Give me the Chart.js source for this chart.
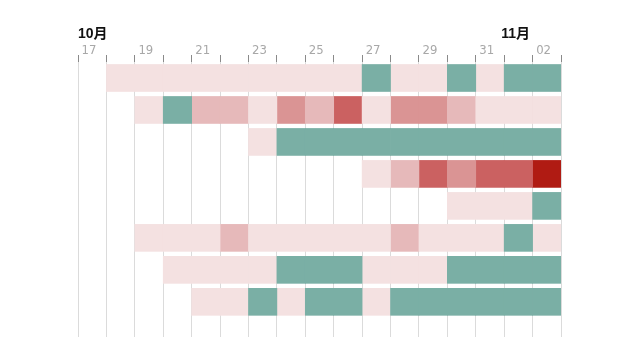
<!DOCTYPE html>
<html>
<head>
<meta charset="utf-8">
<script src="https://cdn.jsdelivr.net/npm/chart.js@4"></script>
<style>
  html, body { margin: 0; padding: 0; background: #fff; }
  #contenedor { width: 640px; height: 364px; }
</style>
</head>
<body>
<div id="contenedor"><canvas id="grafico"></canvas></div>
<script>
// Días (17 oct - 2 nov)
const dias = ['17','18','19','20','21','22','23','24','25','26','27','28','29','30','31','01','02'];
const meses = [
    { etiqueta: '10月', indice: 0 },
    { etiqueta: '11月', indice: 15 }
];

// 0 = verde, 1..5 = intensidad de rojo, null = sin dato
const fila1 = [null,1,1,1,1,1,1,1,1,1,0,1,1,0,1,0,0];
const fila2 = [null,null,1,0,2,2,1,3,2,4,1,3,3,2,1,1,1];
const fila3 = [null,null,null,null,null,null,1,0,0,0,0,0,0,0,0,0,0];
const fila4 = [null,null,null,null,null,null,null,null,null,null,1,2,4,3,4,4,5];
const fila5 = [null,null,null,null,null,null,null,null,null,null,null,null,null,1,1,1,0];
const fila6 = [null,null,1,1,1,2,1,1,1,1,1,2,1,1,1,0,1];
const fila7 = [null,null,null,1,1,1,1,0,0,0,1,1,1,0,0,0,0];
const fila8 = [null,null,null,null,1,1,0,1,0,0,1,0,0,0,0,0,0];

const filas = [fila1, fila2, fila3, fila4, fila5, fila6, fila7, fila8];
const niveles = [0, 1, 2, 3, 4, 5];
const colores = ['#7aafa5', '#f4e1e1', '#e6b9ba', '#da9494', '#cb6161', '#b01b13'];

// Construir un dataset por nivel de color
const datasets = niveles.map(function(nivel) {
    const celdas = [];
    filas.forEach(function(fila, f) {
        fila.forEach(function(v, d) {
            if (v === nivel) celdas.push({ x: [d, d + 1], y: f });
        });
    });
    return {
        data: celdas,
        backgroundColor: colores[nivel],
        borderWidth: 0,
        barThickness: 27,
        grouped: false
    };
});

// Etiquetas de mes encima de los días
const etiquetasMes = {
    id: 'etiquetasMes',
    afterDraw(chart) {
        const ctx = chart.ctx;
        const escalaX = chart.scales.x;
        ctx.save();
        ctx.font = 'bold 14px "Liberation Sans", "Noto Sans CJK JP", sans-serif';
        ctx.fillStyle = '#111';
        ctx.textAlign = 'left';
        ctx.textBaseline = 'alphabetic';
        meses.forEach(function(m) {
            const x = escalaX.getPixelForValue(m.indice) - (m.indice ? 3 : 0);
            ctx.fillText(m.etiqueta, x, 38);
        });
        ctx.restore();
    }
};

new Chart(document.getElementById('grafico'), {
    type: 'bar',
    data: { datasets: datasets },
    options: {
        indexAxis: 'y',
        responsive: true,
        maintainAspectRatio: false,
        animation: false,
        layout: { padding: { left: 78, right: 79, top: 0, bottom: 27 } },
        plugins: {
            legend: { display: false },
            tooltip: { enabled: false }
        },
        scales: {
            x: {
                type: 'linear',
                position: 'top',
                min: 0,
                max: dias.length,
                z: 1,
                afterFit: function(escala) { escala.height = 62; },
                border: { display: false },
                grid: {
                    color: 'rgba(0,0,0,0.14)',
                    tickColor: '#8a8a8a',
                    tickLength: 7
                },
                ticks: {
                    stepSize: 1,
                    autoSkip: false,
                    maxRotation: 0,
                    padding: -3,
                    labelOffset: 11,
                    color: '#a8a8a8',
                    font: { family: '"DejaVu Sans Condensed", sans-serif', size: 13 },
                    callback: function(v) {
                        return (v % 2 === 0 && v < dias.length) ? dias[v] : '';
                    }
                }
            },
            y: {
                type: 'linear',
                display: false,
                reverse: true,
                offset: false,
                min: -0.5,
                max: 8.1
            }
        }
    },
    plugins: [etiquetasMes]
});
</script>
</body>
</html>
